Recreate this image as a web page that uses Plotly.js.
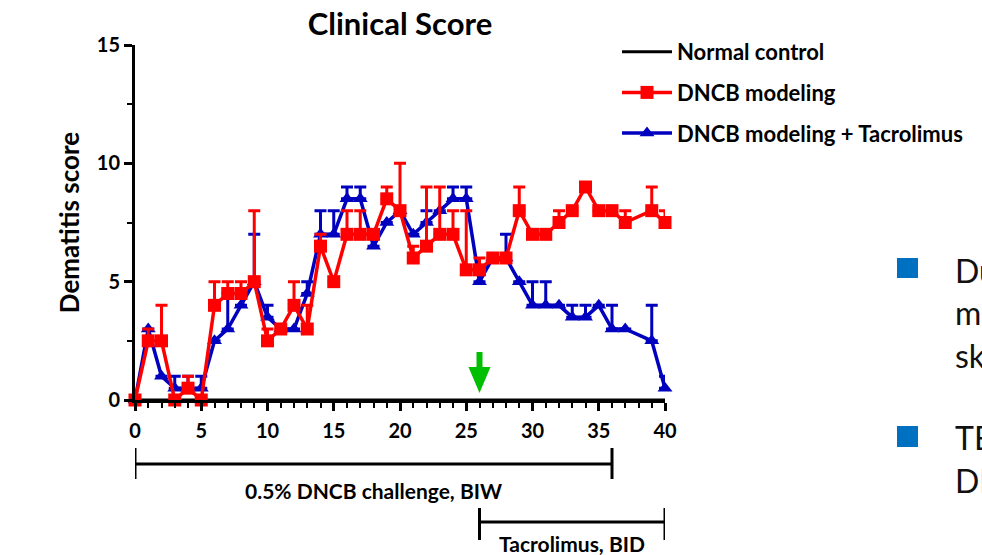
<!DOCTYPE html>
<html>
<head>
<meta charset="utf-8">
<script src="https://cdn.plot.ly/plotly-3.0.1.min.js"></script>
<style>
  html, body { margin: 0; padding: 0; background: #fff; overflow: hidden; }
  #chart { width: 982px; height: 555px; }
</style>
</head>
<body>
<div id="chart"></div>
<script>
// Study days on which the clinical score was recorded
const days = [0,1,2,3,4,5,6,7,8,9,10,11,12,13,14,15,16,17,18,19,20,
              21,22,23,24,25,26,27,28,29,30,31,32,33,34,35,36,37,39,40];

// Mean dermatitis score per group
const normalScore = [0,0,0,0,0,0,0,0,0,0,0,0,0,0,0,0,0,0,0,0,
                     0,0,0,0,0,0,0,0,0,0,0,0,0,0,0,0,0,0,0,0];
const dncbScore   = [0,2.5,2.5,0,0.5,0,4,4.5,4.5,5,2.5,3,4,3,6.5,5,7,7,7,8.5,
                     8,6,6.5,7,7,5.5,5.5,6,6,8,7,7,7.5,8,9,8,8,7.5,8,7.5];
const tacroScore  = [0,3,1,0.5,0.5,0.5,2.5,3,4,5,3.5,3,3,4.5,7,7,8.5,8.5,6.5,7.5,
                     8,7,7.5,8,8.5,8.5,5,6,6,5,4,4,4,3.5,3.5,4,3,3,2.5,0.5];

// Upper error (SEM) per group
const dncbErr  = [0,0.5,1.5,0,0.5,0,1,0.5,0.5,3,0.5,0,1,1,0.5,0,1,1,0,0.5,
                  2,0.5,2.5,2,1,2.5,0.5,0,0,1,0,0,0.5,0,0,0,0,0.5,1,0.5];
const tacroErr = [0,0,0,0.5,0.5,0.5,0,1.5,0,2,0.5,0,0,0.5,1,1,0.5,0.5,0,0,
                  0,0,0.5,0,0.5,0.5,0,0,1,0,1,1,0,0.5,0.5,0,1,0,1.5,0.5];
const noLowerErr = days.map(() => 0);

// Treatment schedules (first and last day)
const challengeDays  = [0, 36];
const tacrolimusDays = [26, 40];

const seriesNames = ['Normal control', 'DNCB modeling', 'DNCB modeling + Tacrolimus'];
const xTicks = [0, 5, 10, 15, 20, 25, 30, 35, 40];
const yTicks = [0, 5, 10, 15];

const RED = '#ff0000', BLUE = '#0000bf', GREEN = '#00bf00';
const FONT = 'Lato, "Open Sans", sans-serif';

const traces = [
  {
    x: days, y: normalScore, name: seriesNames[0], type: 'scatter', mode: 'lines',
    line: { color: '#000', width: 3 }, legendrank: 1, legendgroup: 'a', cliponaxis: false
  },
  {
    x: days, y: tacroScore, name: seriesNames[2], type: 'scatter', mode: 'lines+markers',
    line: { color: BLUE, width: 3.5 },
    marker: { symbol: 'triangle-up', size: 13, color: BLUE },
    error_y: { type: 'data', symmetric: false, array: tacroErr, arrayminus: noLowerErr,
               color: BLUE, thickness: 3, width: 6 },
    legendrank: 3, legendgroup: 'c', cliponaxis: false
  },
  {
    x: days, y: dncbScore, name: seriesNames[1], type: 'scatter', mode: 'lines+markers',
    line: { color: RED, width: 3.5 },
    marker: { symbol: 'square', size: 13, color: RED },
    error_y: { type: 'data', symmetric: false, array: dncbErr, arrayminus: noLowerErr,
               color: RED, thickness: 3, width: 6 },
    legendrank: 2, legendgroup: 'b', cliponaxis: false
  }
];

// Pixel positions in the page converted to paper coordinates of the plot area
const PLOT_TOP = 45, PLOT_BOTTOM = 400, PLOT_LEFT = 135, PLOT_RIGHT = 665;
const py = (px) => (PLOT_BOTTOM - px) / (PLOT_BOTTOM - PLOT_TOP);
const pxX = (px) => (px - PLOT_LEFT) / (PLOT_RIGHT - PLOT_LEFT);

function scheduleBar(span, yLine, yTop, yBot) {
  const line = { color: '#000', width: 3 };
  return [
    { type: 'line', xref: 'x', yref: 'paper', x0: span[0], x1: span[1], y0: py(yLine), y1: py(yLine), line },
    { type: 'line', xref: 'x', yref: 'paper', x0: span[0], x1: span[0], y0: py(yTop), y1: py(yBot), line },
    { type: 'line', xref: 'x', yref: 'paper', x0: span[1], x1: span[1], y0: py(yTop), y1: py(yBot), line }
  ];
}

const shapes = [
  ...scheduleBar(challengeDays, 464, 448, 479),
  ...scheduleBar(tacrolimusDays, 522, 508, 540),
  // green arrow marking the start of tacrolimus treatment
  {
    type: 'path', xref: 'x', yref: 'y', xsizemode: 'pixel', ysizemode: 'pixel',
    xanchor: tacrolimusDays[0], yanchor: 0.3,
    path: 'M0,0 L-11,26 L-3,26 L-3,41 L3,41 L3,26 L11,26 Z',
    fillcolor: GREEN, line: { width: 0 }
  },
  // bullet squares of the side text
  { type: 'rect', xref: 'paper', yref: 'paper', x0: pxX(897), x1: pxX(918), y0: py(278), y1: py(258),
    fillcolor: '#0070c0', line: { width: 0 } },
  { type: 'rect', xref: 'paper', yref: 'paper', x0: pxX(897), x1: pxX(918), y0: py(447), y1: py(426),
    fillcolor: '#0070c0', line: { width: 0 } }
];

const boldText = { family: FONT, size: 21, color: '#000', weight: 'bold' };
const sideFont = { family: FONT, size: 32, color: '#111' };
const sideLines = [
  ['During DNCB modeling,', 270],
  ['mice developed', 312],
  ['skin lesions', 355],
  ['TEWL increased in', 437],
  ['DNCB-treated mice', 480]
];

const annotations = [
  { xref: 'x', yref: 'paper', x: (challengeDays[0] + challengeDays[1]) / 2, y: py(490),
    text: '0.5% DNCB challenge, BIW', showarrow: false, font: boldText, yanchor: 'middle' },
  { xref: 'x', yref: 'paper', x: (tacrolimusDays[0] + tacrolimusDays[1]) / 2, y: py(543),
    text: 'Tacrolimus, BID', showarrow: false, font: boldText, yanchor: 'middle' },
  ...sideLines.map(([t, y]) => ({
    xref: 'paper', yref: 'paper', x: pxX(953), y: py(y), xanchor: 'left', yanchor: 'middle',
    text: t, showarrow: false, font: sideFont
  }))
];

const layout = {
  width: 982, height: 555,
  margin: { l: PLOT_LEFT, r: 982 - PLOT_RIGHT, t: PLOT_TOP, b: 555 - PLOT_BOTTOM, pad: 0,
            autoexpand: false },
  paper_bgcolor: '#fff', plot_bgcolor: '#fff',
  font: { family: FONT, color: '#000' },
  title: {
    text: 'Clinical Score', font: { family: FONT, size: 31, weight: 'bold', color: '#000' },
    xref: 'paper', x: 0.5, xanchor: 'center', yref: 'container', y: 1 - 24 / 555, yanchor: 'middle'
  },
  xaxis: {
    range: [0, 40], showgrid: false, zeroline: false,
    showline: true, linecolor: '#000', linewidth: 3,
    tickmode: 'array', tickvals: xTicks, ticktext: xTicks.map(String),
    ticks: 'outside', ticklen: 8, tickwidth: 3, tickcolor: '#000', ticklabelstandoff: 3,
    tickfont: { family: FONT, size: 20, weight: 'bold', color: '#000' },
    minor: { dtick: 1, ticks: 'outside', ticklen: 5, tickwidth: 2, tickcolor: '#000' }
  },
  yaxis: {
    range: [0, 15], showgrid: false, zeroline: false,
    showline: true, linecolor: '#000', linewidth: 3,
    tickmode: 'array', tickvals: yTicks, ticktext: yTicks.map(String),
    ticks: 'outside', ticklen: 8, tickwidth: 3, tickcolor: '#000',
    tickfont: { family: FONT, size: 20, weight: 'bold', color: '#000' },
    minor: { dtick: 2.5, ticks: 'outside', ticklen: 5, tickwidth: 2, tickcolor: '#000' },
    title: { text: 'Dematitis score', standoff: 10,
             font: { family: FONT, size: 26, weight: 'bold', color: '#000' } }
  },
  showlegend: true,
  legend: {
    x: pxX(617), xanchor: 'left', y: py(31), yanchor: 'top',
    traceorder: 'grouped', tracegroupgap: 9, itemwidth: 50,
    font: { family: FONT, size: 22, weight: 'bold', color: '#000' },
    bgcolor: 'rgba(0,0,0,0)', borderwidth: 0
  },
  shapes, annotations
};

Plotly.newPlot('chart', traces, layout, { displayModeBar: false, staticPlot: true });
</script>
</body>
</html>
